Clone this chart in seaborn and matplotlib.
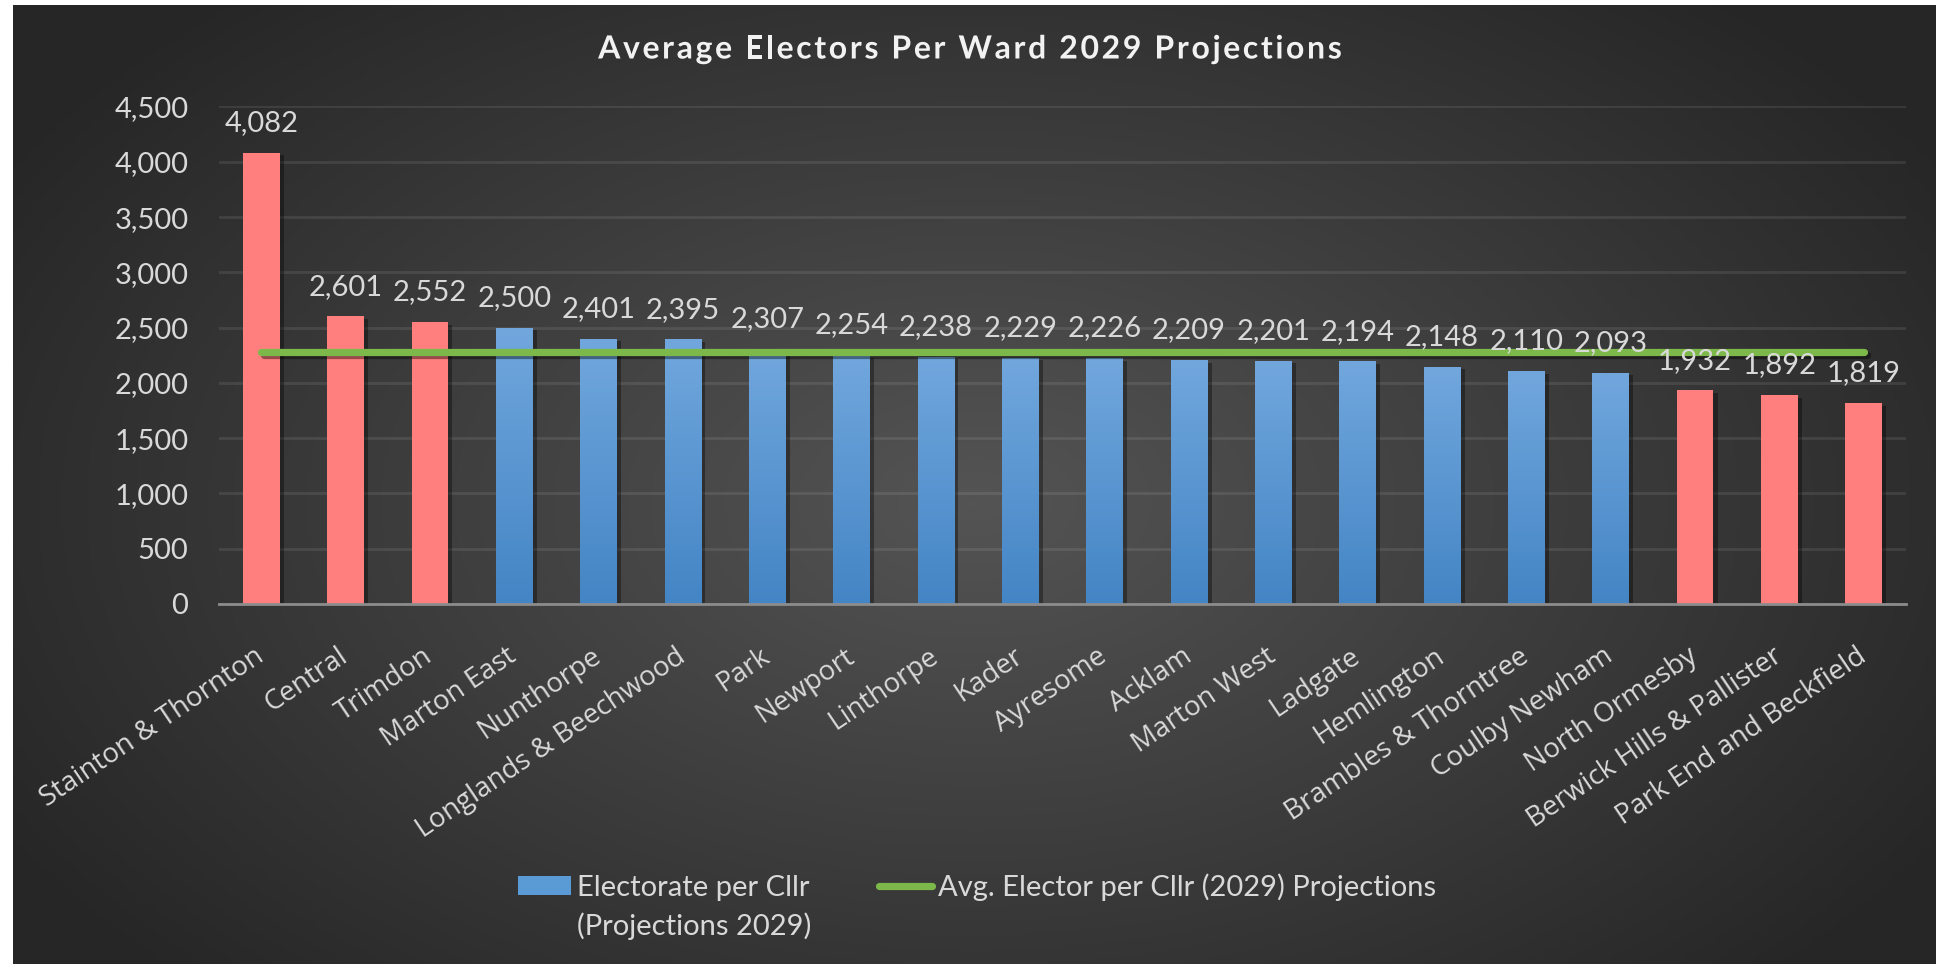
import numpy as np
import matplotlib
matplotlib.use("Agg")
import matplotlib.pyplot as plt
import matplotlib.patheffects as pe
from matplotlib.patches import Patch
from matplotlib.lines import Line2D
from matplotlib.ticker import FuncFormatter
from matplotlib.colors import LinearSegmentedColormap
import pandas as pd
import seaborn as sns

# ─── data ────────────────────────────────────────────────────────────────────
wards = ["Stainton & Thornton", "Central", "Trimdon", "Marton East", "Nunthorpe",
         "Longlands & Beechwood", "Park", "Newport", "Linthorpe", "Kader",
         "Ayresome", "Acklam", "Marton West", "Ladgate", "Hemlington",
         "Brambles & Thorntree", "Coulby Newham", "North Ormesby",
         "Berwick Hills & Pallister", "Park End and Beckfield"]
electors_per_cllr = [4082, 2601, 2552, 2500, 2401, 2395, 2307, 2254, 2238, 2229,
                     2226, 2209, 2201, 2194, 2148, 2110, 2093, 1932, 1892, 1819]
# pink = outside tolerance, blue = within
band = ["out", "out", "out", "in", "in", "in", "in", "in", "in", "in",
        "in", "in", "in", "in", "in", "in", "in", "out", "out", "out"]
avg_elector = 2275
avg_line = [avg_elector] * len(wards)
y_ticks = [0, 500, 1000, 1500, 2000, 2500, 3000, 3500, 4000, 4500]

TITLE = "Average Electors Per Ward 2029 Projections"
BAR_LABEL = ["Electorate per Cllr", "(Projections 2029)"]
LINE_LABEL = "Avg. Elector per Cllr (2029) Projections"

PINK = "#FF7F7F"
BLUE_TOP = "#71A7DD"
BLUE_BOT = "#4485C5"
GREEN = "#7DB84A"
TXT = "#D9D9D9"

sns.set_style("white")
plt.rcParams["font.family"] = ["Lato", "DejaVu Sans"]

W, H = 1939, 964
fig = plt.figure(figsize=(W / 100, H / 100), dpi=100)
fig.patch.set_facecolor("white")

# ─── background: dark radial gradient, thin white border ─────────────────────
bg = fig.add_axes([13 / W, 0, (W - 16) / W, (H - 5) / H])
bg.set_axis_off()
yy, xx = np.mgrid[0:1:300j, 0:1:600j]
r = np.sqrt(((xx - 0.5) / 0.62) ** 2 + ((yy - 0.52) / 0.75) ** 2)
shade = np.clip(0.33 - 0.19 * r, 0.15, 0.33)
bg.imshow(np.dstack([shade] * 3), aspect="auto", extent=[0, 1, 0, 1])

# ─── main plot ───────────────────────────────────────────────────────────────
df = pd.DataFrame({"ward": wards, "electors": electors_per_cllr, "band": band})

ax = fig.add_axes([219 / W, 1 - 604 / H, (1906 - 219) / W, (604 - 106.5) / H])
ax.set_facecolor("none")
sns.barplot(data=df, x="ward", y="electors", hue="band", hue_order=["out", "in"],
            palette={"out": PINK, "in": BLUE_TOP}, dodge=False, width=0.435,
            legend=False, saturation=1, ax=ax, zorder=3)

shadow = [pe.SimplePatchShadow(offset=(3, -2), shadow_rgbFace="black", alpha=0.35),
          pe.Normal()]
grad = np.linspace(0, 1, 100)[:, None]
blue_cmap = LinearSegmentedColormap.from_list("bl", [BLUE_TOP, BLUE_BOT])
for p in ax.patches:
    p.set_edgecolor("none")
    p.set_path_effects(shadow)
for p in ax.containers[1]:
    x0, w, h = p.get_x(), p.get_width(), p.get_height()
    im = ax.imshow(grad, cmap=blue_cmap, aspect="auto", extent=[x0, x0 + w, 0, h],
                   zorder=3.5, interpolation="bilinear")
    im.set_clip_path(p)

for cont in ax.containers:
    ax.bar_label(cont, labels=[f"{v:,.0f}" for v in cont.datavalues], padding=12,
                 color=TXT, fontsize=21, zorder=6)

ax.plot(range(len(wards)), avg_line, color=GREEN, lw=5.2, solid_capstyle="round",
        zorder=5,
        path_effects=[pe.SimpleLineShadow(offset=(2, -2), alpha=0.4), pe.Normal()])

ax.set_xlim(-0.5, len(wards) - 0.5)
ax.set_ylim(0, 4500)
ax.set_yticks(y_ticks)
ax.yaxis.set_major_formatter(FuncFormatter(lambda v, _: f"{v:,.0f}"))
ax.grid(axis="y", color="white", alpha=0.09, lw=2, zorder=0)
ax.set_axisbelow(True)
for s in ["top", "right", "left"]:
    ax.spines[s].set_visible(False)
ax.spines["bottom"].set_color("#8C8C8C")
ax.spines["bottom"].set_linewidth(2)
ax.spines["bottom"].set_zorder(4)
ax.set_xlabel("")
ax.set_ylabel("")
ax.tick_params(axis="y", length=0, pad=22, labelsize=21, labelcolor=TXT)
ax.tick_params(axis="x", length=0, pad=36, labelcolor=TXT, labelsize=20)
ax.set_xticks(range(len(wards)))
ax.set_xticklabels(wards, rotation=34, ha="right", rotation_mode="anchor",
                   va="center")
for t in ax.get_xticklabels():
    t.set_fontfamily(["Open Sans", "DejaVu Sans"])

# ─── title (letter-spaced, placed glyph by glyph) ────────────────────────────
renderer = fig.canvas.get_renderer()
title_kw = dict(fontsize=23, fontweight="bold", color="#F2F2F2",
                path_effects=[pe.SimpleLineShadow(offset=(1.5, -1.5), alpha=0.6),
                              pe.Normal()])
spacing = 2.6


def text_width(s):
    t = fig.text(0, 0, s, **title_kw)
    w = t.get_window_extent(renderer).width
    t.remove()
    return w


starts = []
for i, ch in enumerate(TITLE):
    starts.append(text_width(TITLE[:i + 1]) - text_width(ch) if ch != " " else None)
total = text_width(TITLE) + spacing * (len(TITLE) - 1)
left_px = 970 - total / 2
for i, ch in enumerate(TITLE):
    if ch == " ":
        continue
    fig.text((left_px + starts[i] + spacing * i) / W, 1 - 49 / H, ch,
             ha="left", va="center", **title_kw)

# ─── legend ──────────────────────────────────────────────────────────────────
handles = [Patch(facecolor="#5B9BD5", edgecolor="none"),
           Line2D([0], [0], color=GREEN, lw=5.2, solid_capstyle="round")]
leg = fig.legend(handles, [BAR_LABEL[0], LINE_LABEL], loc="center",
                 bbox_to_anchor=(977 / W, 1 - 887 / H), ncol=2, frameon=False,
                 fontsize=21, labelcolor=TXT, handlelength=1.8, handleheight=0.65,
                 handletextpad=0.2, columnspacing=2.4)
fig.canvas.draw()
first = leg.get_texts()[0].get_window_extent(renderer)
fig.text(first.x0 / W, (first.y0 + first.height / 2 - 38) / H, BAR_LABEL[1],
         ha="left", va="center", fontsize=21, color=TXT)

fig.savefig("out.png", dpi=100, facecolor=fig.get_facecolor())
